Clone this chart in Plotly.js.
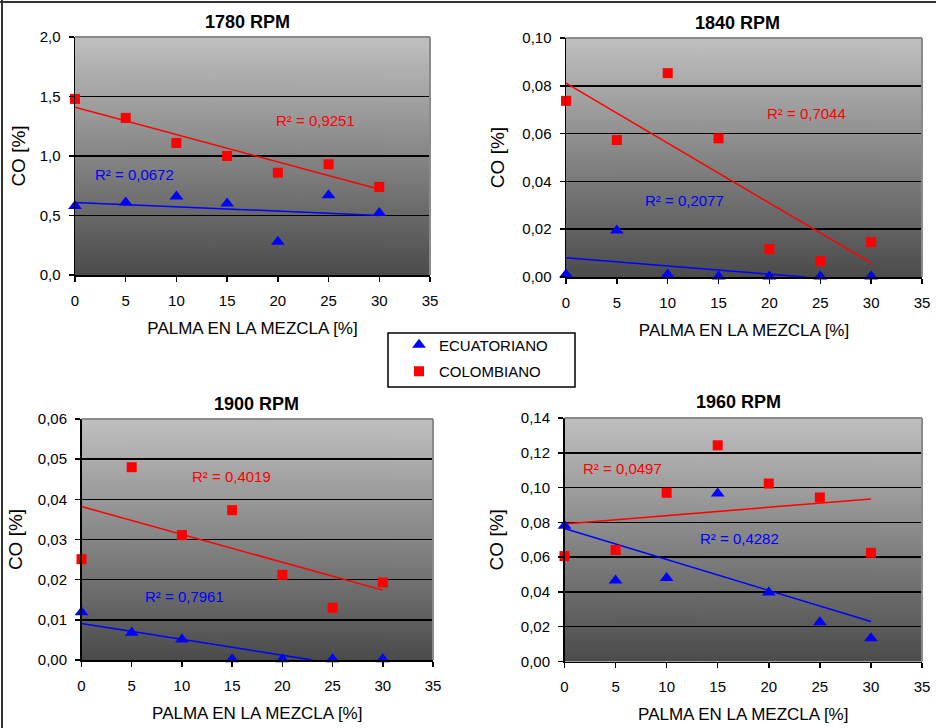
<!DOCTYPE html>
<html>
<head>
<meta charset="utf-8">
<script src="https://cdn.plot.ly/plotly-3.0.1.min.js"></script>
<style>html,body{margin:0;padding:0;background:#fff;}#chart{width:936px;height:728px;}</style>
</head>
<body>
<div id="chart"></div>
<script>
// ---------- data ----------
const palma = [0, 5, 10, 15, 20, 25, 30];
const seriesNames = ['ECUATORIANO', 'COLOMBIANO'];
const panelTitles = ['1780 RPM', '1840 RPM', '1900 RPM', '1960 RPM'];
const xTitle = 'PALMA EN LA MEZCLA [%]';
const yTitle = 'CO [%]';

const ecu1780 = [0.58, 0.61, 0.66, 0.60, 0.28, 0.67, 0.52];
const col1780 = [1.48, 1.32, 1.11, 1.00, 0.86, 0.93, 0.74];
const ecu1840 = [0.001, 0.0195, 0.001, 0.0002, 0.0002, 0.0002, 0.0002];
const col1840 = [0.0737, 0.0573, 0.0853, 0.058, 0.0117, 0.0066, 0.0146];
const ecu1900 = [0.0119, 0.0068, 0.0051, 0.0002, 0.0002, 0.0002, 0.0002];
const col1900 = [0.0251, 0.048, 0.0311, 0.0373, 0.0212, 0.013, 0.0193];
const ecu1960 = [0.078, 0.0465, 0.048, 0.0966, 0.0396, 0.0226, 0.0134];
const col1960 = [0.0606, 0.0641, 0.097, 0.1243, 0.1023, 0.0943, 0.0625];

// linear trend lines (end points)
const trendXEcu1780 = [0, 30];   const trendEcu1780 = [0.61, 0.50];
const trendXCol1780 = [0, 30];   const trendCol1780 = [1.41, 0.72];
const trendXEcu1840 = [0, 23.5]; const trendEcu1840 = [0.0081, 0.0];
const trendXCol1840 = [0, 30];   const trendCol1840 = [0.0811, 0.0059];
const trendXEcu1900 = [0, 23];   const trendEcu1900 = [0.0091, 0.0];
const trendXCol1900 = [0, 30];   const trendCol1900 = [0.0382, 0.0174];
const trendXEcu1960 = [0, 30];   const trendEcu1960 = [0.0765, 0.023];
const trendXCol1960 = [0, 30];   const trendCol1960 = [0.079, 0.0935];

const r2Ecu = ['R² = 0,0672', 'R² = 0,2077', 'R² = 0,7961', 'R² = 0,4282'];
const r2Col = ['R² = 0,9251', 'R² = 0,7044', 'R² = 0,4019', 'R² = 0,0497'];

const yMax = [2.0, 0.10, 0.06, 0.14];
const yStep = [0.5, 0.02, 0.01, 0.02];
const yFormat = ['.1f', '.2f', '.2f', '.2f'];

// ---------- layout helpers ----------
const W = 936, H = 728;
const px = v => v / W;
const py = v => 1 - v / H;
const FONT = 'Arial, "Liberation Sans", sans-serif';
const BLUE = '#0000ff', RED = '#ff0000';

// plot areas in pixels: [left, right, top, bottom]
const boxes = [
  [75, 430, 37, 275],
  [566, 922, 38, 277],
  [81.5, 433, 419, 660],
  [564.5, 922, 418, 661.5]
];

const ecu = [ecu1780, ecu1840, ecu1900, ecu1960];
const col = [col1780, col1840, col1900, col1960];
const tEcuX = [trendXEcu1780, trendXEcu1840, trendXEcu1900, trendXEcu1960];
const tEcu = [trendEcu1780, trendEcu1840, trendEcu1900, trendEcu1960];
const tColX = [trendXCol1780, trendXCol1840, trendXCol1900, trendXCol1960];
const tCol = [trendCol1780, trendCol1840, trendCol1900, trendCol1960];

// label positions (data coordinates of the left/middle of each R² label)
const r2EcuPos = [[1.8, 0.848], [7.6, 0.0319], [6.1, 0.0158], [13.1, 0.0708]];
const r2ColPos = [[19.6, 1.295], [19.6, 0.0685], [10.85, 0.0456], [1.63, 0.111]];
const titlePos = [[247, 22], [737, 23], [256, 404], [738, 402]];
const yStandoff = [9, 12, 10, 12];

// gradient background image
function gradientURL() {
  const c = document.createElement('canvas');
  c.width = 4; c.height = 256;
  const g = c.getContext('2d');
  const grd = g.createLinearGradient(0, 0, 0, 256);
  grd.addColorStop(0, '#c0c0c0');
  grd.addColorStop(1, '#4b4b4b');
  g.fillStyle = grd;
  g.fillRect(0, 0, 4, 256);
  return c.toDataURL('image/png');
}
const grad = gradientURL();

const traces = [];
const layout = {
  width: W, height: H,
  margin: {l: 0, r: 0, t: 0, b: 0},
  paper_bgcolor: '#ffffff',
  plot_bgcolor: 'rgba(0,0,0,0)',
  separators: ',.',
  font: {family: FONT, size: 15, color: '#000'},
  showlegend: true,
  legend: {
    x: px(476), y: py(358), xanchor: 'center', yanchor: 'middle',
    bgcolor: 'rgba(0,0,0,0)', borderwidth: 0,
    font: {family: FONT, size: 15, color: '#000'},
    tracegroupgap: 4
  },
  annotations: [],
  shapes: [],
  images: []
};

for (let i = 0; i < 4; i++) {
  const s = i === 0 ? '' : String(i + 1);
  const xa = 'x' + s, ya = 'y' + s;
  const [l, r, t, b] = boxes[i];
  layout['xaxis' + s] = {
    domain: [px(l), px(r)], anchor: ya, range: [0, 35], dtick: 5, tick0: 0,
    showgrid: false, zeroline: false, showline: true, linecolor: '#000', linewidth: 1.5,
    ticks: 'outside', ticklen: 5, tickwidth: 1.5, tickcolor: '#000',
    tickfont: {family: FONT, size: 15, color: '#000'}, ticklabelstandoff: 6,
    title: {text: xTitle, font: {family: FONT, size: 17, color: '#000'}, standoff: 14},
    automargin: false, fixedrange: true
  };
  layout['yaxis' + s] = {
    domain: [py(b), py(t)], anchor: xa, range: [0, yMax[i]], dtick: yStep[i], tick0: 0,
    tickformat: yFormat[i],
    showgrid: true, gridcolor: '#000', gridwidth: 1.5, zeroline: false,
    showline: true, linecolor: '#000', linewidth: 1.5,
    ticks: 'outside', ticklen: 5, tickwidth: 1.5, tickcolor: '#000',
    tickfont: {family: FONT, size: 15, color: '#000'}, ticklabelstandoff: 5,
    title: {text: yTitle, font: {family: FONT, size: 19, color: '#000'}, standoff: yStandoff[i]},
    automargin: false, fixedrange: true
  };
  layout.images.push({
    source: grad, xref: xa + ' domain', yref: ya + ' domain',
    x: 0, y: 1, sizex: 1, sizey: 1, xanchor: 'left', yanchor: 'top',
    sizing: 'stretch', layer: 'below'
  });
  // grey top / right frame of plot area
  layout.shapes.push({type: 'line', xref: xa + ' domain', yref: ya + ' domain',
    x0: 0, x1: 1, y0: 1, y1: 1, line: {color: '#8a8a8a', width: 2}, layer: 'above'});
  layout.shapes.push({type: 'line', xref: xa + ' domain', yref: ya + ' domain',
    x0: 1, x1: 1, y0: 0, y1: 1, line: {color: '#8a8a8a', width: 2}, layer: 'above'});

  // trend lines
  traces.push({x: tEcuX[i], y: tEcu[i], xaxis: xa, yaxis: ya, mode: 'lines',
    line: {color: BLUE, width: 1.5}, showlegend: false, hoverinfo: 'skip'});
  traces.push({x: tColX[i], y: tCol[i], xaxis: xa, yaxis: ya, mode: 'lines',
    line: {color: RED, width: 1.5}, showlegend: false, hoverinfo: 'skip'});
  // points
  traces.push({x: palma, y: ecu[i], xaxis: xa, yaxis: ya, mode: 'markers',
    name: seriesNames[0], legendgroup: 'ecu', showlegend: i === 0, cliponaxis: false,
    marker: {symbol: 'triangle-up', size: 12, color: BLUE, line: {width: 0}}});
  traces.push({x: palma, y: col[i], xaxis: xa, yaxis: ya, mode: 'markers',
    name: seriesNames[1], legendgroup: 'col', showlegend: i === 0, cliponaxis: false,
    marker: {symbol: 'square', size: 10, color: RED, line: {width: 0}}});

  // R² labels
  layout.annotations.push({xref: xa, yref: ya, x: r2EcuPos[i][0], y: r2EcuPos[i][1],
    text: r2Ecu[i], showarrow: false, xanchor: 'left', yanchor: 'middle',
    font: {family: FONT, size: 15, color: BLUE}});
  layout.annotations.push({xref: xa, yref: ya, x: r2ColPos[i][0], y: r2ColPos[i][1],
    text: r2Col[i], showarrow: false, xanchor: 'left', yanchor: 'middle',
    font: {family: FONT, size: 15, color: RED}});
  // panel titles
  layout.annotations.push({xref: 'paper', yref: 'paper', x: px(titlePos[i][0]), y: py(titlePos[i][1]),
    text: '<b>' + panelTitles[i] + '</b>', showarrow: false, xanchor: 'center', yanchor: 'middle',
    font: {family: FONT, size: 18, color: '#000'}});
}

// legend box and outer frame
layout.shapes.push({type: 'rect', xref: 'paper', yref: 'paper',
  x0: px(388), x1: px(575), y0: py(387), y1: py(333), line: {color: '#000', width: 1.5}});
layout.shapes.push({type: 'line', xref: 'paper', yref: 'paper',
  x0: px(2), x1: px(2), y0: 0, y1: 1, line: {color: '#333', width: 2}});
layout.shapes.push({type: 'line', xref: 'paper', yref: 'paper',
  x0: 0, x1: 1, y0: py(2), y1: py(2), line: {color: '#333', width: 2}});

Plotly.newPlot('chart', traces, layout, {displayModeBar: false, staticPlot: true});
</script>
</body>
</html>
